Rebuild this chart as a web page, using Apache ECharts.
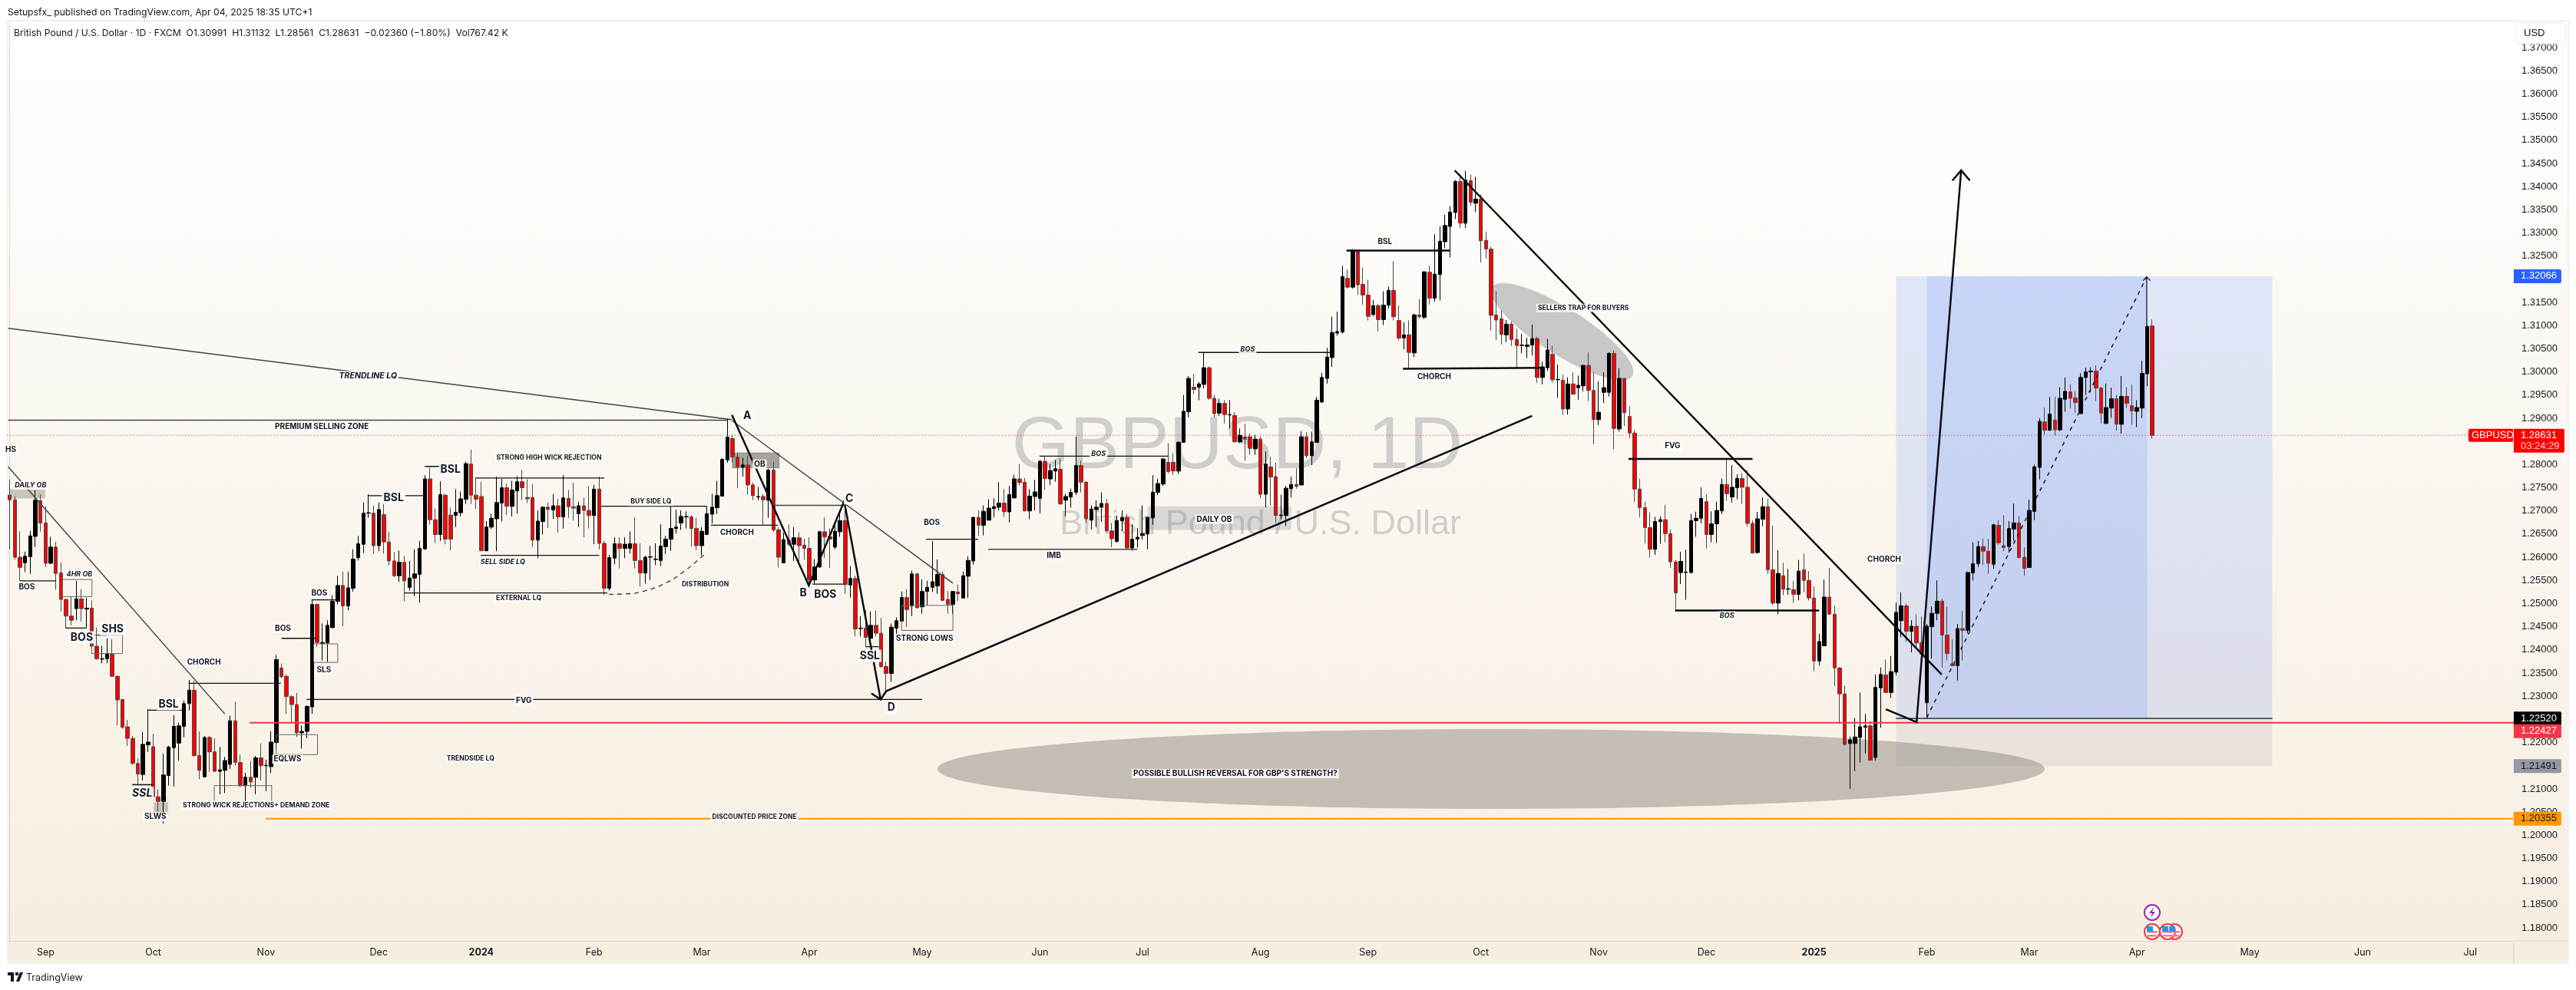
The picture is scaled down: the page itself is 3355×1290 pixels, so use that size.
<!DOCTYPE html>
<html><head><meta charset="utf-8"><title>GBPUSD</title>
<style>html,body{margin:0;padding:0;background:#fff}#c{width:3355px;height:1290px}</style>
<script src="https://cdn.jsdelivr.net/npm/echarts@6/dist/echarts.min.js"></script></head>
<body><div id="c"></div>
<script>
// Daily bars: [open, high, low, close]
const barsAug23toDec23 = [
[1.2734,1.2768,1.2617,1.2724],[1.2724,1.2731,1.2595,1.2600],[1.2600,1.2656,1.2549,1.2578],[1.2588,1.2612,1.2568,1.2602],[1.2601,1.2657,1.2564,1.2646],
[1.2645,1.2745,1.2622,1.2723],[1.2722,1.2736,1.2655,1.2674],[1.2674,1.2710,1.2579,1.2587],[1.2587,1.2644,1.2585,1.2622],[1.2622,1.2633,1.2530,1.2565],
[1.2566,1.2589,1.2483,1.2509],[1.2509,1.2510,1.2447,1.2473],[1.2473,1.2515,1.2453,1.2464],[1.2489,1.2549,1.2464,1.2510],[1.2510,1.2531,1.2461,1.2489],
[1.2488,1.2512,1.2448,1.2490],[1.2490,1.2507,1.2397,1.2408],[1.2408,1.2448,1.2379,1.2381],[1.2380,1.2409,1.2371,1.2381],[1.2381,1.2425,1.2371,1.2391],
[1.2391,1.2423,1.2342,1.2343],[1.2343,1.2345,1.2237,1.2292],[1.2293,1.2294,1.2230,1.2233],[1.2234,1.2249,1.2193,1.2209],[1.2209,1.2214,1.2152,1.2155],
[1.2155,1.2166,1.2109,1.2132],[1.2131,1.2223,1.2118,1.2196],[1.2195,1.2272,1.2180,1.2201],[1.2191,1.2219,1.2080,1.2083],[1.2083,1.2099,1.2051,1.2073],
[1.2073,1.2176,1.2025,1.2130],[1.2129,1.2193,1.2107,1.2190],[1.2189,1.2259,1.2105,1.2235],[1.2199,1.2243,1.2161,1.2236],[1.2235,1.2291,1.2211,1.2284],
[1.2284,1.2335,1.2269,1.2313],[1.2313,1.2333,1.2169,1.2172],[1.2172,1.2224,1.2121,1.2140],[1.2126,1.2214,1.2125,1.2211],[1.2211,1.2214,1.2137,1.2180],
[1.2180,1.2209,1.2136,1.2138],[1.2138,1.2191,1.2088,1.2141],[1.2140,1.2169,1.2091,1.2161],[1.2153,1.2258,1.2143,1.2247],[1.2247,1.2288,1.2150,1.2157],
[1.2157,1.2174,1.2104,1.2107],[1.2107,1.2135,1.2067,1.2125],[1.2125,1.2160,1.2103,1.2115],[1.2125,1.2171,1.2088,1.2167],[1.2167,1.2198,1.2118,1.2150],
[1.2150,1.2163,1.2095,1.2151],[1.2148,1.2224,1.2134,1.2201],[1.2200,1.2389,1.2185,1.2379],[1.2361,1.2371,1.2339,1.2342],[1.2343,1.2347,1.2262,1.2299],
[1.2299,1.2302,1.2243,1.2282],[1.2282,1.2307,1.2212,1.2221],[1.2221,1.2237,1.2187,1.2224],[1.2224,1.2280,1.2209,1.2278],[1.2277,1.2509,1.2262,1.2498],
[1.2498,1.2500,1.2406,1.2416],[1.2414,1.2457,1.2377,1.2416],[1.2415,1.2464,1.2374,1.2453],[1.2448,1.2518,1.2447,1.2505],[1.2505,1.2560,1.2498,1.2539],
[1.2539,1.2569,1.2451,1.2495],[1.2495,1.2569,1.2485,1.2534],[1.2533,1.2617,1.2526,1.2596],[1.2599,1.2646,1.2593,1.2629],[1.2628,1.2718,1.2609,1.2695],
[1.2695,1.2736,1.2685,1.2696],[1.2695,1.2711,1.2607,1.2625],[1.2625,1.2718,1.2613,1.2703],[1.2692,1.2726,1.2608,1.2633],[1.2633,1.2655,1.2582,1.2592],
[1.2592,1.2611,1.2557,1.2560],[1.2560,1.2614,1.2547,1.2589],[1.2589,1.2603,1.2505,1.2549],[1.2535,1.2592,1.2528,1.2555],[1.2555,1.2617,1.2516,1.2564],
[1.2563,1.2635,1.2502,1.2619],[1.2618,1.2777,1.2616,1.2769],[1.2769,1.2793,1.2671,1.2681],[1.2681,1.2705,1.2631,1.2649],[1.2649,1.2764,1.2635,1.2735],
[1.2734,1.2737,1.2628,1.2639],[1.2691,1.2707,1.2615,1.2639],[1.2690,1.2747,1.2665,1.2697]];
const barsJan24toApr24 = [
[1.2696,1.2742,1.2688,1.2726],[1.2725,1.2806,1.2715,1.2802],[1.2801,1.2832,1.2715,1.2734],[1.2734,1.2773,1.2704,1.2725],[1.2731,1.2763,1.2613,1.2614],
[1.2614,1.2678,1.2613,1.2665],[1.2665,1.2694,1.2661,1.2684],[1.2683,1.2774,1.2613,1.2718],[1.2717,1.2769,1.2677,1.2750],[1.2750,1.2759,1.2691,1.2710],
[1.2710,1.2765,1.2688,1.2745],[1.2743,1.2775,1.2694,1.2763],[1.2763,1.2788,1.2723,1.2750],[1.2729,1.2768,1.2717,1.2726],[1.2729,1.2758,1.2622,1.2637],
[1.2637,1.2701,1.2598,1.2678],[1.2677,1.2710,1.2649,1.2708],[1.2708,1.2718,1.2663,1.2703],[1.2702,1.2736,1.2683,1.2711],[1.2711,1.2726,1.2653,1.2687],
[1.2687,1.2777,1.2662,1.2728],[1.2727,1.2745,1.2685,1.2709],[1.2709,1.2761,1.2679,1.2706],[1.2694,1.2720,1.2665,1.2711],[1.2711,1.2729,1.2643,1.2701],
[1.2701,1.2753,1.2662,1.2690],[1.2690,1.2756,1.2628,1.2747],[1.2747,1.2774,1.2617,1.2630],[1.2630,1.2635,1.2519,1.2533],[1.2533,1.2605,1.2528,1.2599],
[1.2598,1.2643,1.2585,1.2629],[1.2629,1.2643,1.2576,1.2619],[1.2619,1.2643,1.2598,1.2628],[1.2619,1.2656,1.2608,1.2629],[1.2629,1.2686,1.2576,1.2593],
[1.2593,1.2630,1.2537,1.2566],[1.2566,1.2603,1.2543,1.2600],[1.2600,1.2625,1.2551,1.2601],[1.2595,1.2630,1.2583,1.2596],[1.2593,1.2671,1.2581,1.2624],
[1.2623,1.2646,1.2607,1.2639],[1.2639,1.2710,1.2614,1.2662],[1.2662,1.2703,1.2651,1.2665],[1.2674,1.2701,1.2659,1.2688],[1.2687,1.2699,1.2662,1.2688],
[1.2687,1.2691,1.2623,1.2662],[1.2662,1.2685,1.2615,1.2625],[1.2625,1.2665,1.2603,1.2656],[1.2649,1.2710,1.2648,1.2694],[1.2693,1.2737,1.2673,1.2708],
[1.2707,1.2765,1.2693,1.2733],[1.2732,1.2814,1.2731,1.2811],[1.2810,1.2899,1.2804,1.2859],[1.2856,1.2864,1.2805,1.2816],[1.2816,1.2825,1.2749,1.2795],
[1.2795,1.2815,1.2774,1.2799],[1.2799,1.2819,1.2735,1.2756],[1.2756,1.2761,1.2723,1.2733],[1.2730,1.2752,1.2723,1.2731],[1.2731,1.2736,1.2669,1.2724],
[1.2723,1.2791,1.2685,1.2788],[1.2788,1.2806,1.2654,1.2659],[1.2659,1.2665,1.2578,1.2600],[1.2588,1.2653,1.2587,1.2638],[1.2637,1.2671,1.2624,1.2628],
[1.2628,1.2665,1.2592,1.2642],[1.2642,1.2654,1.2590,1.2625],[1.2626,1.2640,1.2595,1.2619],[1.2619,1.2643,1.2544,1.2551],[1.2551,1.2596,1.2543,1.2579],
[1.2579,1.2657,1.2577,1.2655],[1.2655,1.2686,1.2598,1.2644],[1.2644,1.2662,1.2577,1.2639],[1.2622,1.2678,1.2617,1.2656],[1.2655,1.2701,1.2644,1.2679],
[1.2679,1.2720,1.2521,1.2541],[1.2540,1.2581,1.2513,1.2554],[1.2554,1.2560,1.2429,1.2445],[1.2446,1.2473,1.2429,1.2447],[1.2447,1.2486,1.2406,1.2427],
[1.2425,1.2483,1.2406,1.2453],[1.2453,1.2485,1.2429,1.2436],[1.2436,1.2469,1.2361,1.2364],[1.2364,1.2374,1.2310,1.2349],[1.2349,1.2457,1.2331,1.2449],
[1.2447,1.2470,1.2423,1.2463],[1.2462,1.2526,1.2461,1.2513],[1.2513,1.2531,1.2449,1.2487],[1.2495,1.2571,1.2473,1.2564],[1.2564,1.2566,1.2489,1.2491]];
const barsMay24toSep24 = [
[1.2493,1.2552,1.2478,1.2526],[1.2526,1.2549,1.2497,1.2535],[1.2535,1.2635,1.2525,1.2547],[1.2538,1.2595,1.2521,1.2563],[1.2563,1.2569,1.2505,1.2507],
[1.2509,1.2527,1.2478,1.2498],[1.2498,1.2527,1.2478,1.2526],[1.2525,1.2541,1.2505,1.2521],[1.2512,1.2569,1.2511,1.2560],[1.2559,1.2602,1.2512,1.2593],
[1.2592,1.2687,1.2584,1.2686],[1.2686,1.2701,1.2646,1.2669],[1.2669,1.2712,1.2647,1.2699],[1.2680,1.2725,1.2679,1.2706],[1.2705,1.2727,1.2686,1.2709],
[1.2708,1.2762,1.2701,1.2717],[1.2717,1.2747,1.2687,1.2698],[1.2698,1.2754,1.2675,1.2735],[1.2728,1.2778,1.2727,1.2769],[1.2769,1.2801,1.2755,1.2761],
[1.2762,1.2771,1.2699,1.2700],[1.2700,1.2747,1.2682,1.2732],[1.2731,1.2767,1.2701,1.2741],[1.2727,1.2810,1.2695,1.2807],[1.2807,1.2817,1.2745,1.2770],
[1.2769,1.2801,1.2756,1.2787],[1.2786,1.2810,1.2763,1.2791],[1.2790,1.2813,1.2714,1.2715],[1.2723,1.2737,1.2688,1.2731],[1.2730,1.2748,1.2707,1.2740],
[1.2740,1.2860,1.2734,1.2798],[1.2798,1.2809,1.2740,1.2762],[1.2762,1.2764,1.2674,1.2683],[1.2680,1.2712,1.2660,1.2704],[1.2703,1.2723,1.2665,1.2708],
[1.2708,1.2740,1.2676,1.2716],[1.2716,1.2725,1.2654,1.2657],[1.2657,1.2674,1.2622,1.2640],[1.2634,1.2690,1.2632,1.2679],[1.2679,1.2701,1.2657,1.2686],
[1.2686,1.2694,1.2617,1.2620],[1.2620,1.2671,1.2614,1.2639],[1.2639,1.2663,1.2621,1.2643],[1.2647,1.2712,1.2638,1.2651],[1.2650,1.2687,1.2617,1.2686],
[1.2685,1.2777,1.2670,1.2740],[1.2740,1.2769,1.2734,1.2759],[1.2758,1.2814,1.2754,1.2812],[1.2805,1.2846,1.2781,1.2785],[1.2805,1.2825,1.2778,1.2786],
[1.2786,1.2850,1.2780,1.2848],[1.2848,1.2950,1.2847,1.2915],[1.2914,1.2991,1.2902,1.2986],[1.2967,1.2995,1.2952,1.2962],[1.2967,1.2978,1.2939,1.2974],
[1.2973,1.3043,1.2964,1.3009],[1.3009,1.3012,1.2940,1.2943],[1.2943,1.2951,1.2902,1.2910],[1.2911,1.2942,1.2905,1.2932],[1.2932,1.2939,1.2889,1.2908],
[1.2907,1.2939,1.2878,1.2908],[1.2906,1.2913,1.2848,1.2849],[1.2849,1.2878,1.2846,1.2863],[1.2860,1.2888,1.2808,1.2855],[1.2860,1.2867,1.2821,1.2835],
[1.2834,1.2864,1.2821,1.2855],[1.2855,1.2861,1.2727,1.2736],[1.2736,1.2828,1.2708,1.2801],[1.2795,1.2817,1.2712,1.2773],[1.2774,1.2804,1.2674,1.2690],
[1.2690,1.2735,1.2682,1.2691],[1.2690,1.2754,1.2667,1.2749],[1.2748,1.2774,1.2729,1.2757],[1.2757,1.2792,1.2748,1.2753],[1.2756,1.2872,1.2755,1.2860],
[1.2860,1.2870,1.2814,1.2819],[1.2819,1.2871,1.2799,1.2849],[1.2848,1.2946,1.2847,1.2939],[1.2935,1.2998,1.2933,1.2988],[1.2986,1.3052,1.2975,1.3032],
[1.3031,1.3119,1.3011,1.3085],[1.3084,1.3130,1.3078,1.3087],[1.3086,1.3229,1.3083,1.3206],[1.3202,1.3221,1.3180,1.3183],[1.3183,1.3265,1.3180,1.3261],
[1.3260,1.3261,1.3166,1.3188],[1.3189,1.3225,1.3145,1.3166],[1.3166,1.3199,1.3111,1.3120],[1.3124,1.3155,1.3120,1.3143],[1.3143,1.3147,1.3087,1.3113],
[1.3113,1.3174,1.3101,1.3144],[1.3144,1.3184,1.3137,1.3176],[1.3176,1.3239,1.3111,1.3119],[1.3111,1.3143,1.3068,1.3073],[1.3073,1.3107,1.3049,1.3080],
[1.3080,1.3111,1.3005,1.3042],[1.3041,1.3126,1.3032,1.3123],[1.3123,1.3157,1.3115,1.3119],[1.3118,1.3217,1.3114,1.3216],[1.3215,1.3229,1.3145,1.3159],
[1.3159,1.3297,1.3152,1.3211],[1.3210,1.3314,1.3154,1.3282],[1.3281,1.3339,1.3267,1.3316],[1.3314,1.3358,1.3247,1.3345],[1.3344,1.3414,1.3330,1.3411],
[1.3411,1.3427,1.3311,1.3321],[1.3321,1.3434,1.3311,1.3414],[1.3413,1.3426,1.3359,1.3366],[1.3364,1.3421,1.3345,1.3373]];
const barsOct24toJan25 = [
[1.3373,1.3383,1.3236,1.3283],[1.3284,1.3303,1.3245,1.3265],[1.3265,1.3270,1.3089,1.3122],[1.3123,1.3174,1.3069,1.3112],[1.3115,1.3133,1.3059,1.3081],
[1.3080,1.3112,1.3064,1.3103],[1.3103,1.3109,1.3056,1.3070],[1.3070,1.3093,1.3010,1.3057],[1.3057,1.3082,1.3040,1.3058],[1.3055,1.3074,1.3030,1.3058],
[1.3058,1.3102,1.3035,1.3072],[1.3072,1.3076,1.2977,1.2988],[1.2988,1.3022,1.2973,1.3011],[1.3009,1.3071,1.3002,1.3047],[1.3038,1.3057,1.2977,1.2983],
[1.2983,1.3016,1.2944,1.2984],[1.2982,1.2994,1.2907,1.2920],[1.2920,1.2988,1.2908,1.2974],[1.2974,1.2999,1.2951,1.2952],[1.2966,1.2992,1.2940,1.2971],
[1.2970,1.3016,1.2958,1.3014],[1.3014,1.3042,1.2937,1.2960],[1.2960,1.2999,1.2844,1.2897],[1.2897,1.2980,1.2885,1.2913],[1.2956,1.2999,1.2933,1.2966],
[1.2956,1.3042,1.2947,1.3040],[1.3040,1.3046,1.2833,1.2878],[1.2877,1.3008,1.2871,1.2986],[1.2986,1.2987,1.2883,1.2912],[1.2904,1.2926,1.2857,1.2868],
[1.2868,1.2874,1.2719,1.2747],[1.2747,1.2769,1.2686,1.2707],[1.2707,1.2720,1.2630,1.2664],[1.2664,1.2697,1.2599,1.2617],[1.2617,1.2687,1.2605,1.2677],
[1.2677,1.2688,1.2629,1.2681],[1.2681,1.2713,1.2632,1.2651],[1.2651,1.2660,1.2577,1.2590],[1.2590,1.2594,1.2487,1.2523],[1.2567,1.2612,1.2542,1.2591],
[1.2567,1.2616,1.2508,1.2568],[1.2567,1.2694,1.2565,1.2679],[1.2679,1.2698,1.2644,1.2684],[1.2684,1.2751,1.2673,1.2727],[1.2720,1.2736,1.2619,1.2649],
[1.2649,1.2699,1.2632,1.2672],[1.2672,1.2720,1.2631,1.2701],[1.2700,1.2770,1.2693,1.2757],[1.2757,1.2812,1.2722,1.2737],[1.2730,1.2799,1.2718,1.2751],
[1.2750,1.2779,1.2725,1.2770],[1.2770,1.2781,1.2715,1.2751],[1.2751,1.2788,1.2666,1.2673],[1.2673,1.2679,1.2608,1.2609],[1.2610,1.2698,1.2608,1.2683],
[1.2682,1.2729,1.2667,1.2709],[1.2709,1.2726,1.2564,1.2573],[1.2573,1.2668,1.2497,1.2501],[1.2501,1.2615,1.2477,1.2565],[1.2560,1.2588,1.2518,1.2531],
[1.2531,1.2575,1.2519,1.2532],[1.2530,1.2549,1.2502,1.2520],[1.2520,1.2594,1.2507,1.2570],[1.2573,1.2608,1.2525,1.2550],[1.2550,1.2570,1.2507,1.2512],
[1.2512,1.2537,1.2354,1.2376],[1.2376,1.2435,1.2366,1.2418],[1.2409,1.2552,1.2408,1.2514],[1.2514,1.2577,1.2476,1.2477],[1.2477,1.2495,1.2322,1.2361],
[1.2361,1.2363,1.2240,1.2305],[1.2305,1.2323,1.2193,1.2196],[1.2198,1.2213,1.2100,1.2206],[1.2198,1.2253,1.2138,1.2212],[1.2211,1.2308,1.2157,1.2234],
[1.2233,1.2262,1.2177,1.2236],[1.2236,1.2246,1.2161,1.2162],[1.2168,1.2347,1.2161,1.2319],[1.2318,1.2362,1.2232,1.2347],[1.2346,1.2379,1.2307,1.2308],
[1.2308,1.2387,1.2296,1.2353],[1.2352,1.2502,1.2345,1.2481]];
const barsFeb25toApr25 = [
[1.2463,1.2524,1.2427,1.2495],[1.2495,1.2500,1.2417,1.2440],[1.2440,1.2464,1.2395,1.2451],[1.2451,1.2477,1.2406,1.2415],[1.2416,1.2472,1.2381,1.2391],
[1.2286,1.2456,1.2252,1.2451],[1.2450,1.2494,1.2381,1.2479],[1.2479,1.2550,1.2464,1.2505],[1.2505,1.2510,1.2362,1.2432],[1.2432,1.2493,1.2377,1.2392],
[1.2370,1.2423,1.2365,1.2366],[1.2366,1.2456,1.2334,1.2446],[1.2446,1.2484,1.2377,1.2442],[1.2442,1.2569,1.2436,1.2567],[1.2566,1.2632,1.2550,1.2586],
[1.2586,1.2635,1.2579,1.2623],[1.2623,1.2640,1.2583,1.2613],[1.2613,1.2640,1.2564,1.2587],[1.2585,1.2672,1.2575,1.2670],[1.2669,1.2680,1.2626,1.2631],
[1.2625,1.2691,1.2613,1.2621],[1.2623,1.2678,1.2610,1.2662],[1.2661,1.2716,1.2636,1.2674],[1.2674,1.2689,1.2598,1.2599],[1.2600,1.2621,1.2560,1.2576],
[1.2578,1.2724,1.2577,1.2701],[1.2699,1.2800,1.2680,1.2795],[1.2794,1.2900,1.2768,1.2893],[1.2892,1.2923,1.2864,1.2874],[1.2874,1.2946,1.2873,1.2909],
[1.2896,1.2946,1.2863,1.2875],[1.2875,1.2967,1.2872,1.2943],[1.2941,1.2988,1.2914,1.2958],[1.2957,1.2973,1.2921,1.2943],[1.2944,1.2958,1.2911,1.2934],
[1.2910,1.2997,1.2909,1.2988],[1.2988,1.3009,1.2950,1.3000],[1.3000,1.3010,1.2956,1.3002],[1.3002,1.3014,1.2937,1.2965],[1.2965,1.2968,1.2889,1.2911],
[1.2889,1.2975,1.2887,1.2923],[1.2922,1.2966,1.2901,1.2942],[1.2942,1.2950,1.2873,1.2887],[1.2887,1.2991,1.2867,1.2947],[1.2947,1.2967,1.2922,1.2932],
[1.2927,1.2973,1.2886,1.2916],[1.2915,1.2939,1.2881,1.2923],[1.2922,1.3024,1.2900,1.2997],[1.2996,1.3100,1.2969,1.3098],[1.30991,1.31132,1.28561,1.28631]];

// Time axis: bar number where each month label sits (empty bars run on to the right)
const monthBars  = [7,28,50,72,92,114,135,156,178,201,221,244,265,287,310,331,352,374,394,415,437,459,480];
const monthNames = ['Sep','Oct','Nov','Dec','2024','Feb','Mar','Apr','May','Jun','Jul','Aug','Sep','Oct','Nov','Dec','2025','Feb','Mar','Apr','May','Jun','Jul'];
const totalBars = 489;

// Price axis
const priceTicks = [1.37,1.365,1.36,1.355,1.35,1.345,1.34,1.335,1.33,1.325,1.315,1.31,1.305,1.30,1.295,1.29,1.28,1.275,1.27,1.265,1.26,1.255,1.25,1.245,1.24,1.235,1.23,1.22,1.21,1.205,1.20,1.195,1.19,1.185,1.18];
const priceMin = 1.17719, priceMax = 1.3758;

// Horizontal levels
const lastPrice = 1.28631, targetPrice = 1.32066, entryPrice = 1.2252, redLevel = 1.22427, stopPrice = 1.21491, orangeLevel = 1.20355;

// Drawn lines as [bar, price] paths
const thinPaths = [
 [[2,1.2549],[9,1.2549]],[[10.9,1.2447],[15,1.2447]],[[26.9,1.2270],[33.9,1.2270]],[[23.9,1.2109],[27.9,1.2109]],
 [[34.9,1.2328],[52.9,1.2328]],[[53,1.2425],[60,1.2425]],[[58.9,1.2508],[64,1.2508]],[[57.9,1.2293],[178,1.2293]],
 [[70,1.2733],[81,1.2733]],[[81,1.2796],[84,1.2796]],[[77,1.2523],[116.6,1.2523]],[[91,1.2771],[116,1.2771]],
 [[91.9,1.2604],[115,1.2604]],[[115.4,1.2710],[136,1.2710]],[[136.8,1.2669],[149.9,1.2669]],[[156.6,1.2542],[162.9,1.2542]],
 [[167,1.2407],[169.6,1.2407]],[[231.9,1.3042],[257.7,1.3042]],[[200.9,1.2818],[226,1.2818]],[[178.8,1.2639],[188.9,1.2639]],
 [[368,entryPrice],[441.4,entryPrice]]];
const grayPaths = [
 [[-0.3,1.2896],[140,1.2896]],[[-0.3,1.3094],[140.9,1.2897]],[[-0.3,1.2795],[41.95,1.2262]],[[140.9,1.2895],[184,1.2544]],
 [[149.3,1.2712],[162.8,1.2712]],[[190.9,1.2617],[220,1.2617]],[[16.9,1.2432],[18.9,1.2432]]];
const boldPaths = [
 [[140.9,1.2907],[155.9,1.2539],[162.8,1.2721],[169.9,1.2293]],[[168.1,1.2306],[169.9,1.2293],[171,1.2311],[297,1.2905]],
 [[260.8,1.3262],[280.9,1.3262]],[[271.8,1.3007],[299.2,1.3009]],[[281.9,1.3435],[376.9,1.2347]],
 [[315.8,1.2812],[340,1.2812]],[[324.9,1.2485],[353,1.2485]],
 [[366,1.2272],[372,1.2244],[380.7,1.3435]],[[379,1.3413],[380.7,1.3435],[382.4,1.3413]]];
const dashedPaths = [[[374,1.2254],[416.9,1.3205]]];
const distributionCurve = [[116.9,1.2520],[120.4,1.2521],[124.1,1.2528],[128.1,1.2545],[131.5,1.2569],[134.4,1.2595],[135.8,1.2609]];
const arrowPaths = [[[416.9,1.3098],[416.9,1.3205]],[[416.2,1.3197],[416.9,1.3205],[417.6,1.3197]]];

// Drawn boxes as [barFrom, barTo, priceTop, priceBottom]
const outlineBoxes = [[10.3,16.05,1.2552,1.2515],[39.9,51.1,1.2107,1.2072],[52,60.05,1.2217,1.2174],[59.3,64,1.2413,1.2373],[174,184,1.2496,1.2442],[16,22,1.2432,1.2392]];
const lightZones = [[222,250,1.2710,1.2659]];
const midZones = [[-0.05,6.93,1.2747,1.2727],[28.1,30.9,1.2071,1.2047]];
const darkZones = [[141,150.1,1.2825,1.2793]];

// Ellipses as [bar, price, halfBars, halfPrice, turn]
const bigEllipse = [[289,1.2143,108,0.00861,0]];
const trapEllipse = [[302.9,1.3087,16.2,0.00497,-0.565]];

// Notes as [text, bar, price]
const smallNotes = [['PREMIUM SELLING ZONE',60.9,1.2881],['HS',0.2,1.2832],['BOS',3.33,1.2536],['CHORCH',37.9,1.2374],
 ['BOS',53.3,1.2446],['BOS',60.4,1.2522],['SLS',61.3,1.2357],['EQLWS',54.2,1.2164],['CHORCH',141.9,1.2653],['STRONG LOWS',178.5,1.2425],['FVG',100.3,1.2291],
 ['BOS',179.9,1.2675],['IMB',203.7,1.2603],['DAILY OB',235,1.2682],['BSL',268.3,1.3281],
 ['CHORCH',277.9,1.2990],['FVG',324.4,1.2840],['CHORCH',365.7,1.2595],["POSSIBLE BULLISH REVERSAL FOR GBP'S STRENGTH?",239.1,1.2133],['SLWS',28.4,1.2040],['OB',146.3,1.2801]];
const tinyNotes = [['STRONG WICK REJECTIONS+ DEMAND ZONE',48.1,1.2065],['TRENDSIDE LQ',89.9,1.2166],['STRONG HIGH WICK REJECTION',105.2,1.2814],
 ['BUY SIDE LQ',125.1,1.2720],['EXTERNAL LQ',99.3,1.2512],['DISTRIBUTION',135.7,1.2541],['DISCOUNTED PRICE ZONE',145.3,1.2039],['SELLERS TRAP FOR BUYERS',307,1.3138]];
const italicNotes = [['DAILY OB',4.07,1.2755],['4HR OB',13.6,1.2564],['SELL SIDE LQ',96.2,1.2589],['BOS',212.4,1.2823],['BOS',241.5,1.3049],['BOS',335,1.2474]];
const wideItalicNotes = [['TRENDLINE LQ',69.9,1.2991]];
const bigNotes = [['SHS',20.07,1.2445],['BOS',14.05,1.2427],['BSL',31,1.2283],['BSL',74.9,1.2728],['BSL',86,1.2790],['A',143.9,1.2905],['C',163.8,1.2727],['B',154.8,1.2522],
 ['BOS',159.1,1.2520],['SSL',167.8,1.2387],['D',172,1.2275]];
const bigItalicNotes = [['SSL',25.85,1.2091]];
const watermarkMain = [['GBPUSD, 1D',239.5,1.2837]];
const watermarkSub = [['British Pound / U.S. Dollar',244,1.2671]];

// Price tags on the right
const tagPrices = [targetPrice,entryPrice,redLevel,stopPrice,orangeLevel];
const tagTexts = ['1.32066','1.22520','1.22427','1.21491','1.20355'];

const headerLine = 'Setupsfx_ published on TradingView.com, Apr 04, 2025 18:35 UTC+1';
const legendLine = 'British Pound / U.S. Dollar · 1D · FXCM  O1.30991  H1.31132  L1.28561  C1.28631  −0.02360 (−1.80%)  Vol767.42 K';

const allBars = barsAug23toDec23.concat(barsJan24toApr24,barsMay24toSep24,barsOct24toJan25,barsFeb25toApr25);
const categories = Array.from({length:totalBars},(_,i)=>String(i));
const FONT = '"Liberation Sans",Arial,sans-serif';
const UI = 'Inter,"Liberation Sans",sans-serif';

function pathSeries(paths,width,color,type,z,opts){
  return Object.assign({type:'lines',coordinateSystem:'cartesian2d',xAxisIndex:1,yAxisIndex:0,polyline:true,silent:true,z:z,
    lineStyle:{color:color,width:width,type:type||'solid',opacity:1},data:paths.map(p=>({coords:p}))},opts||{});
}
function boxSeries(rows,style,z){
  return {type:'custom',coordinateSystem:'cartesian2d',xAxisIndex:1,yAxisIndex:0,silent:true,z:z,data:rows,
    renderItem:(p,api)=>{const a=api.coord([api.value(0),api.value(2)]),b=api.coord([api.value(1),api.value(3)]);
      return {type:'rect',shape:{x:a[0],y:a[1],width:b[0]-a[0],height:b[1]-a[1]},style:style};}};
}
function ellipseSeries(rows,fill,z){
  return {type:'custom',coordinateSystem:'cartesian2d',xAxisIndex:1,yAxisIndex:0,silent:true,z:z,data:rows,
    renderItem:(p,api)=>{const c=api.coord([api.value(0),api.value(1)]);const s=api.size([api.value(2),api.value(3)]);
      return {type:'ellipse',shape:{cx:c[0],cy:c[1],rx:s[0],ry:s[1]},originX:c[0],originY:c[1],rotation:api.value(4),style:{fill:fill}};}};
}
function noteSeries(rows,font,fill,bg,z,pad){
  return {type:'custom',coordinateSystem:'cartesian2d',xAxisIndex:1,yAxisIndex:0,silent:true,z:z,clip:false,data:rows.map(r=>[r[1],r[2]]),
    renderItem:(p,api)=>{const c=api.coord([api.value(0),api.value(1)]);
      return {type:'text',style:{text:rows[p.dataIndex][0],x:c[0],y:c[1],align:'center',verticalAlign:'middle',font:font,fill:fill,backgroundColor:bg,padding:pad==null?[1,2]:pad}};}};
}
const tagStyles = [{fill:'#2962ff',text:'#fff',dy:0},{fill:'#000',text:'#fff',dy:0},{fill:'#f23645',text:'#fff',dy:11},{fill:'#9598a1',text:'#131722',dy:0},{fill:'#ff9800',text:'#131722',dy:0}];
const tagSeries = {type:'custom',coordinateSystem:'cartesian2d',xAxisIndex:1,yAxisIndex:0,silent:true,z:30,clip:false,data:tagPrices.map(v=>[totalBars-0.5,v]),
  renderItem:(p,api)=>{const c=api.coord([api.value(0),api.value(1)]);const s=tagStyles[p.dataIndex];const y=c[1]+s.dy;
    return {type:'group',children:[
      {type:'rect',shape:{x:c[0],y:y-9,width:62,height:18,r:[0,2,2,0]},style:{fill:s.fill}},
      {type:'text',style:{text:tagTexts[p.dataIndex],x:c[0]+9,y:y,verticalAlign:'middle',font:'13px '+FONT,fill:s.text}}]};}};
const lastTagSeries = {type:'custom',coordinateSystem:'cartesian2d',xAxisIndex:1,yAxisIndex:0,silent:true,z:31,clip:false,data:[[totalBars-0.5,lastPrice]],
  renderItem:(p,api)=>{const c=api.coord([api.value(0),api.value(1)]);const y=c[1];
    return {type:'group',children:[
      {type:'rect',shape:{x:c[0]-59,y:y-8.5,width:58,height:17,r:[2,0,0,2]},style:{fill:'#ff0000'}},
      {type:'text',style:{text:'GBPUSD',x:c[0]-55,y:y,verticalAlign:'middle',font:'13px '+FONT,fill:'#fff'}},
      {type:'rect',shape:{x:c[0],y:y-8.5,width:66,height:31,r:[0,2,2,0]},style:{fill:'#ff0000'}},
      {type:'text',style:{text:'1.28631',x:c[0]+9,y:y,verticalAlign:'middle',font:'13px '+FONT,fill:'#fff'}},
      {type:'text',style:{text:'03:24:29',x:c[0]+9,y:y+14,verticalAlign:'middle',font:'13px '+FONT,fill:'#ffd2d2'}}]};}};

function flag(cx,cy){
  return [{type:'circle',shape:{cx:cx,cy:cy,r:10},style:{fill:'#fff',stroke:'#f23645',lineWidth:2},z:40},
    {type:'rect',shape:{x:cx-7,y:cy-1,width:14,height:2.5},style:{fill:'#f77c80'},z:41},
    {type:'rect',shape:{x:cx-6,y:cy+4,width:12,height:2.5},style:{fill:'#f77c80'},z:41},
    {type:'rect',shape:{x:cx-7,y:cy-7,width:8,height:7},style:{fill:'#2196f3'},z:42}];
}

const chart = echarts.init(document.getElementById('c'),null,{width:3355,height:1290});
chart.setOption({
  animation:false,backgroundColor:'#ffffff',
  grid:{left:9.3,right:81.1,top:27,bottom:64,containLabel:false},
  xAxis:[{type:'category',data:categories,boundaryGap:true,
      axisLine:{lineStyle:{color:'#ddd5c6',width:1}},axisTick:{show:false},splitLine:{show:false},
      axisLabel:{interval:(i)=>monthBars.indexOf(i)>=0,margin:9,hideOverlap:false,
        formatter:(v,i)=>{const n=monthBars.indexOf(Number(v));const t=monthNames[n];return /^20/.test(t)?'{y|'+t+'}':t;},
        color:'#131722',fontFamily:UI,fontSize:12.5,rich:{y:{fontFamily:UI,fontSize:12.5,fontWeight:'bold',color:'#131722'}}}},
    {type:'value',min:-0.5,max:totalBars-0.5,show:false}],
  yAxis:[{type:'value',position:'right',min:priceMin,max:priceMax,scale:true,
    axisLine:{show:true,lineStyle:{color:'#ddd5c6',width:1}},axisTick:{show:false},splitLine:{show:false},
    axisLabel:{customValues:priceTicks,margin:10,color:'#131722',fontFamily:FONT,fontSize:13,formatter:(v)=>v.toFixed(5)}}],
  graphic:{elements:[
    {type:'rect',z:-100,shape:{x:10,y:27,width:3335,height:1228},style:{stroke:'#f0f1f4',lineWidth:2,fill:new echarts.graphic.LinearGradient(0,0,0,1,[{offset:0,color:'#ffffff'},{offset:1,color:'#f7eee0'}])},silent:true},
    {type:'line',z:1,shape:{x1:3273.9,y1:1226,x2:3273.9,y2:1255},style:{stroke:'#ddd5c6',lineWidth:1}},
    {type:'line',z:1,shape:{x1:3274,y1:1226,x2:3345,y2:1226},style:{stroke:'#ddd5c6',lineWidth:1}},
    {type:'text',z:50,style:{text:headerLine,x:10,y:16,verticalAlign:'middle',font:'12.2px '+UI,fill:'#131722'}},
    {type:'text',z:50,style:{text:legendLine,x:18,y:43,verticalAlign:'middle',font:'12.2px '+UI,fill:'#131722'}},
    {type:'rect',z:50,shape:{x:3277,y:30,width:64,height:27,r:4},style:{fill:'#ffffff',stroke:'#f0f1f4',lineWidth:1.5}},
    {type:'text',z:51,style:{text:'USD',x:3287,y:43,verticalAlign:'middle',font:'13px '+FONT,fill:'#131722'}},
    {type:'polygon',z:50,shape:{points:[[10,1267],[18,1267],[18,1279],[14,1279],[14,1271],[10,1271]]},style:{fill:'#131722'}},
    {type:'circle',z:50,shape:{cx:22,cy:1269,r:2.3},style:{fill:'#131722'}},
    {type:'polygon',z:50,shape:{points:[[26,1267],[30,1267],[25,1279],[21,1279]]},style:{fill:'#131722'}},
    {type:'text',z:50,style:{text:'TradingView',x:34,y:1274,verticalAlign:'middle',font:'12.5px '+UI,fill:'#131722'}},
    ...flag(2832,1214),...flag(2823,1214),...flag(2803,1214),
    {type:'circle',z:40,shape:{cx:2803,cy:1189,r:10},style:{fill:'#fff',stroke:'#9c27b0',lineWidth:2}},
    {type:'polygon',z:41,shape:{points:[[2805,1182],[2799,1190],[2803,1190],[2801,1196],[2807,1188],[2803,1188]]},style:{fill:'#9c27b0'}}
  ]},
  series:[
    noteSeries(watermarkMain,'97px "Liberation Sans",Arial,sans-serif','rgba(120,123,134,0.33)','transparent',1,0),
    noteSeries(watermarkSub,'45px "Liberation Sans",Arial,sans-serif','rgba(120,123,134,0.33)','transparent',1,0),
    ellipseSeries(bigEllipse,'rgba(110,105,100,0.38)',2),
    ellipseSeries(trapEllipse,'rgba(120,123,134,0.4)',2),
    boxSeries(lightZones,{fill:'rgba(120,123,134,0.25)'},2),
    boxSeries(midZones,{fill:'rgba(120,115,105,0.38)'},2),
    boxSeries(darkZones,{fill:'rgba(110,105,100,0.6)',stroke:'#8a8781',lineWidth:1},2),
    boxSeries([[368,441.4,targetPrice,entryPrice]],{fill:'rgba(41,98,255,0.13)'},3),
    boxSeries([[374,417,targetPrice,entryPrice]],{fill:'rgba(41,98,255,0.13)'},3),
    boxSeries([[368,441.4,entryPrice,stopPrice]],{fill:'rgba(120,123,134,0.12)'},3),
    {type:'candlestick',xAxisIndex:0,yAxisIndex:0,silent:true,z:5,barWidth:5,
      itemStyle:{color:'#000000',color0:'#ff0000',borderColor:'#000000',borderColor0:'#4a4a4a',borderWidth:1},
      data:allBars.map(b=>[b[0],b[3],b[2],b[1]])},
    boxSeries(outlineBoxes,{fill:'none',stroke:'#666',lineWidth:1},6),
    pathSeries(thinPaths,1.3,'#111',null,6),
    pathSeries(grayPaths,1.5,'#444',null,6),
    pathSeries(boldPaths,2.5,'#0a0a14',null,7),
    pathSeries(dashedPaths,1.5,'#131722',[5,6],7),
    pathSeries(arrowPaths,1.2,'#111',null,7),
    {type:'line',xAxisIndex:1,yAxisIndex:0,data:distributionCurve,smooth:true,symbol:'none',silent:true,z:6,lineStyle:{color:'#333',width:1.3,type:[6,5]}},
    pathSeries([[[-0.5,lastPrice],[479.7,lastPrice]]],1,'#ff0000',[1,3],4),
    pathSeries([[[46.8,redLevel],[totalBars-0.5,redLevel]]],2,'#f23645',null,6),
    pathSeries([[[49.9,orangeLevel],[totalBars-0.5,orangeLevel]]],2,'#ff9800',null,6),
    noteSeries(smallNotes,'bold 10px '+UI,'#131722','rgba(255,255,255,0.85)',10),
    noteSeries(tinyNotes,'bold 8.6px '+UI,'#131722','rgba(255,255,255,0.85)',10),
    noteSeries(italicNotes,'italic bold 9px '+UI,'#131722','rgba(255,255,255,0.85)',10),
    noteSeries(wideItalicNotes,'italic bold 10.5px '+UI,'#131722','rgba(255,255,255,0.85)',10),
    noteSeries(bigNotes,'bold 14px '+UI,'#131722','rgba(255,255,255,0.9)',10),
    noteSeries(bigItalicNotes,'italic bold 14px '+UI,'#131722','rgba(255,255,255,0.9)',10),
    tagSeries,lastTagSeries
  ]
});
</script></body></html>
